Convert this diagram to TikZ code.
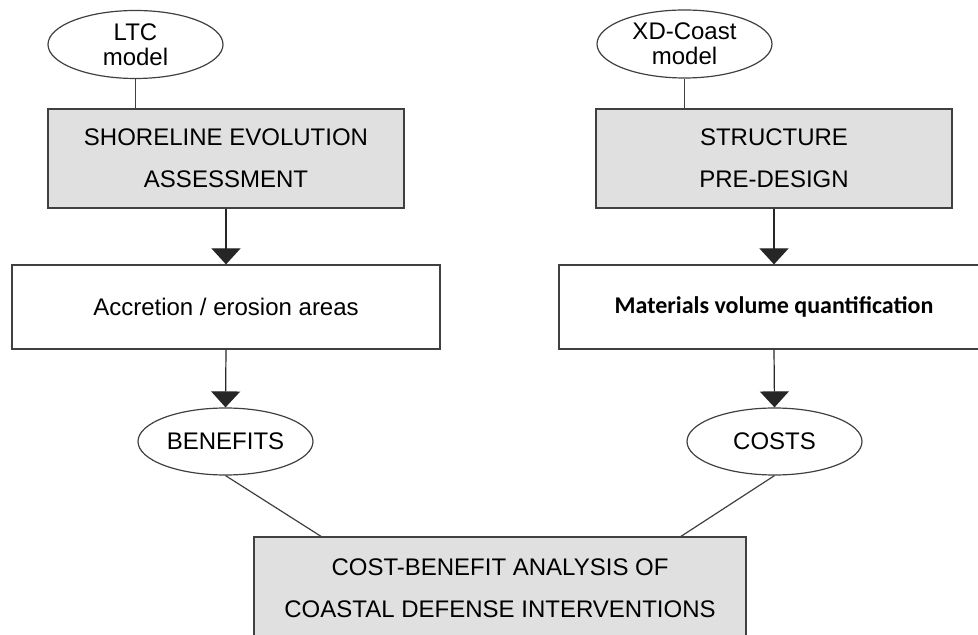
\documentclass[tikz,border=0pt]{standalone}
\usepackage{fontspec}
\setmainfont{Liberation Sans}
\newfontfamily\calibrifont{Carlito}
\usetikzlibrary{shapes.geometric,arrows.meta}
\begin{document}
\begin{tikzpicture}[x=0.5pt,y=-0.5pt,line width=0.6pt,
    model/.style={ellipse,draw=black!75,inner sep=0pt,align=center,
      minimum width=87.5pt,minimum height=34pt,font=\fontsize{12}{12.5}\selectfont},
    task/.style={rectangle,draw=black!75,fill=black!12,inner sep=0pt,align=center,
      minimum width=178pt,minimum height=49.5pt,font=\fontsize{12}{21}\selectfont},
    result/.style={rectangle,draw=black!75,fill=white,inner sep=0pt,align=center,
      minimum width=214pt,minimum height=42pt,font=\fontsize{12}{14}\selectfont},
    flow/.style={draw=black!85,-{Triangle[width=14.5pt,length=8pt]}},
    link/.style={draw=black!75}]
    \useasboundingbox (0,0) rectangle (978,635);
    \node[model] (ltc) at (135.5,44.5) {LTC\\model};
    \node[model] (xdc) at (684.5,44) {XD-Coast\\model};
    \node[task] (shore) at (226,158.5) {SHORELINE EVOLUTION\\ASSESSMENT};
    \node[task] (struct) at (774,158.5) {STRUCTURE\\PRE-DESIGN};
    \node[result] (accr) at (226,307) {Accretion / erosion areas};
    \node[result,minimum width=215pt,font=\calibrifont\bfseries\fontsize{12}{14}\selectfont] (mat) at (774,307) {Materials volume quantification};
    \node[model,minimum height=33.5pt] (ben) at (225.5,441.5) {BENEFITS};
    \node[model,minimum height=33.5pt] (cost) at (774.5,441.5) {COSTS};
    \node[task,minimum width=246pt,minimum height=51.5pt] (cba) at (500,588.5) {COST-BENEFIT ANALYSIS OF\\COASTAL DEFENSE INTERVENTIONS};
    \coordinate (cbaL) at (322,537);
    \coordinate (cbaR) at (680,537);
    \draw[link] (ltc.south) -- (ltc.south |- shore.north);
    \draw[link] (xdc.south) -- (xdc.south |- struct.north);
    \draw[flow] (shore.south) -- (accr.north);
    \draw[flow] (struct.south) -- (mat.north);
    \draw[flow] (accr.south) -- (ben.north);
    \draw[flow] (mat.south) -- (cost.north);
    \draw[link] (ben.south) -- (cbaL);
    \draw[link] (cost.south) -- (cbaR);
\end{tikzpicture}
\end{document}
